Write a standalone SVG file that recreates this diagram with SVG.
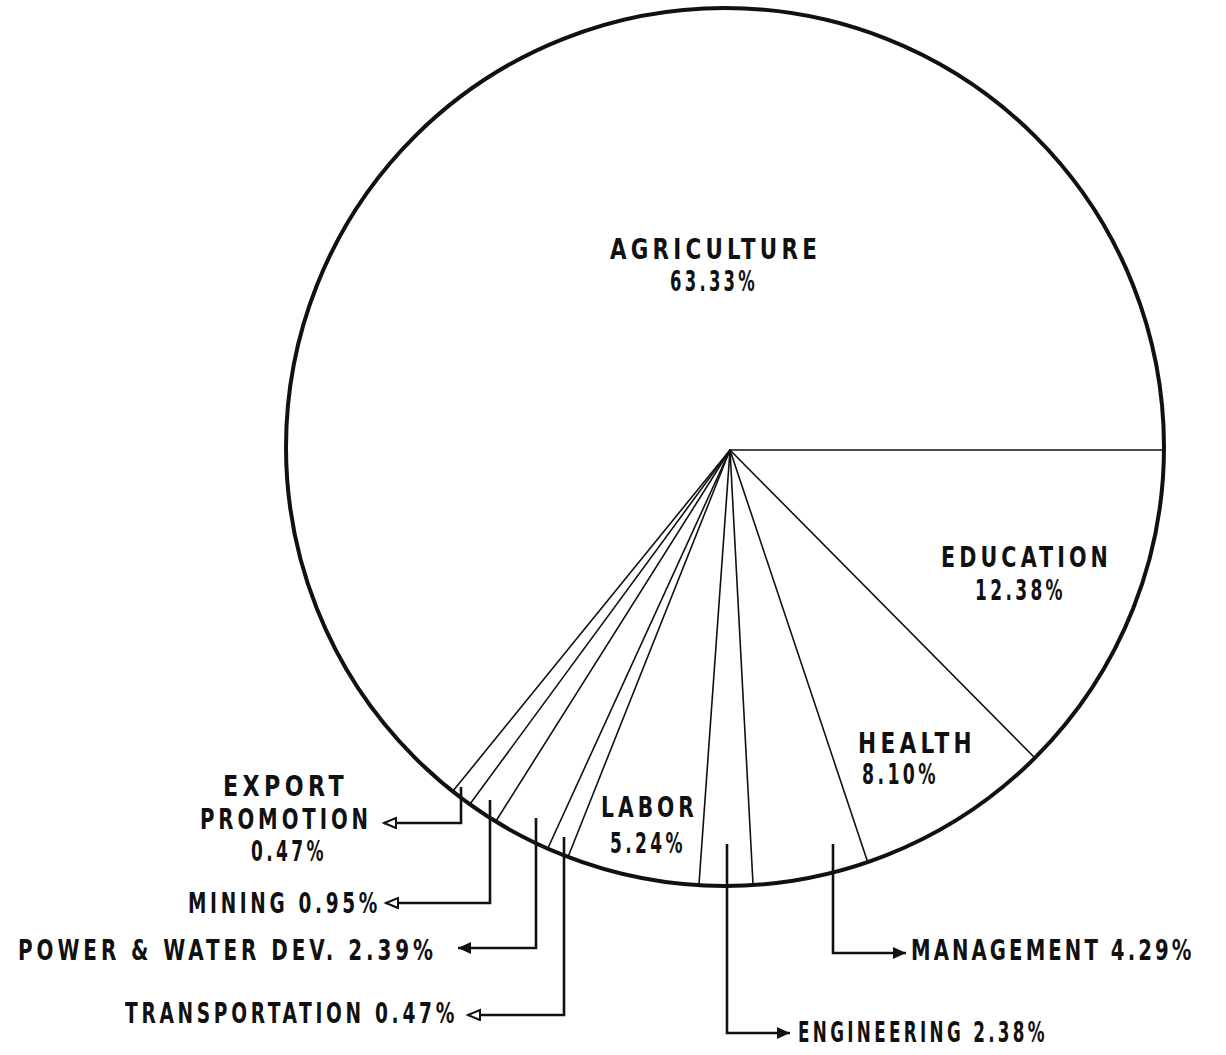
<svg xmlns="http://www.w3.org/2000/svg" width="1226" height="1055" viewBox="0 0 1226 1055">
<defs>
<style>
.lbl{font-family:"DejaVu Sans Condensed","DejaVu Sans","Liberation Sans",sans-serif;font-stretch:condensed;font-weight:bold;font-size:28px;letter-spacing:5px;fill:#111}
.rad{stroke:#111;stroke-width:1.6;fill:none;stroke-linecap:round}
.lead{stroke:#111;stroke-width:2.6;fill:none}
.rim{stroke:#111;stroke-width:4;fill:#fff}
</style>
<marker id="open" markerUnits="userSpaceOnUse" markerWidth="16" markerHeight="14" refX="13" refY="6" orient="auto" viewBox="0 0 16 14">
<path d="M1,1 L13,6 L1,11 Z" fill="#fff" stroke="#111" stroke-width="2"/>
</marker>
<marker id="solid" markerUnits="userSpaceOnUse" markerWidth="16" markerHeight="14" refX="13" refY="6" orient="auto" viewBox="0 0 16 14">
<path d="M0,0 L13,6 L0,12 Z" fill="#111"/>
</marker>
</defs>
<rect width="1226" height="1055" fill="#fff"/>
<g id="pie">
<circle class="rim" cx="725" cy="447" r="439"/>
</g>
<g id="connectors">
<line class="rad" x1="730" y1="450" x2="1164" y2="450"/>
<line class="rad" x1="730" y1="450" x2="1034" y2="757"/>
<line class="rad" x1="730" y1="450" x2="867" y2="860"/>
<line class="rad" x1="730" y1="450" x2="753" y2="884"/>
<line class="rad" x1="730" y1="450" x2="699" y2="884"/>
<line class="rad" x1="730" y1="450" x2="568" y2="857"/>
<line class="rad" x1="730" y1="450" x2="548" y2="848"/>
<line class="rad" x1="730" y1="450" x2="496" y2="821"/>
<line class="rad" x1="730" y1="450" x2="470" y2="804"/>
<line class="rad" x1="730" y1="450" x2="453" y2="791"/>
<path class="lead" d="M461,787 V823 H384" marker-end="url(#open)"/>
<path class="lead" d="M490,800 V903 H386" marker-end="url(#open)"/>
<path class="lead" d="M536,818 V948 H458" marker-end="url(#solid)"/>
<path class="lead" d="M564,837 V1015 H468" marker-end="url(#open)"/>
<path class="lead" d="M833,844 V953 H906" marker-end="url(#solid)"/>
<path class="lead" d="M727,844 V1033 H790" marker-end="url(#solid)"/>
</g>
<g id="agriculture">
<text class="lbl" x="610" y="259" textLength="211" lengthAdjust="spacingAndGlyphs">AGRICULTURE</text>
<text class="lbl" x="670" y="291" textLength="88" lengthAdjust="spacingAndGlyphs">63.33%</text>
</g>
<g id="education">
<text class="lbl" x="941" y="567" textLength="171" lengthAdjust="spacingAndGlyphs">EDUCATION</text>
<text class="lbl" x="975" y="600" textLength="91" lengthAdjust="spacingAndGlyphs">12.38%</text>
</g>
<g id="health">
<text class="lbl" x="858" y="753" textLength="118" lengthAdjust="spacingAndGlyphs">HEALTH</text>
<text class="lbl" x="862" y="784" textLength="77" lengthAdjust="spacingAndGlyphs">8.10%</text>
</g>
<g id="labor">
<text class="lbl" x="601" y="817" textLength="97" lengthAdjust="spacingAndGlyphs">LABOR</text>
<text class="lbl" x="610" y="853" textLength="76" lengthAdjust="spacingAndGlyphs">5.24%</text>
</g>
<g id="export-promotion">
<text class="lbl" x="223" y="796" textLength="125" lengthAdjust="spacingAndGlyphs">EXPORT</text>
<text class="lbl" x="200" y="829" textLength="172" lengthAdjust="spacingAndGlyphs">PROMOTION</text>
<text class="lbl" x="251" y="861" textLength="76" lengthAdjust="spacingAndGlyphs">0.47%</text>
</g>
<g id="mining">
<text class="lbl" x="188" y="913" textLength="193" lengthAdjust="spacingAndGlyphs">MINING 0.95%</text>
</g>
<g id="power-water">
<text class="lbl" x="18" y="960" textLength="419" lengthAdjust="spacingAndGlyphs">POWER &amp; WATER DEV. 2.39%</text>
</g>
<g id="transportation">
<text class="lbl" x="125" y="1023" textLength="333" lengthAdjust="spacingAndGlyphs">TRANSPORTATION 0.47%</text>
</g>
<g id="management">
<text class="lbl" transform="translate(911,960) scale(0.78,1)" x="0" y="0" style="letter-spacing:4px">MANAGEMENT 4.29%</text>
</g>
<g id="engineering">
<text class="lbl" x="798" y="1042" textLength="250" lengthAdjust="spacingAndGlyphs">ENGINEERING 2.38%</text>
</g>
</svg>
